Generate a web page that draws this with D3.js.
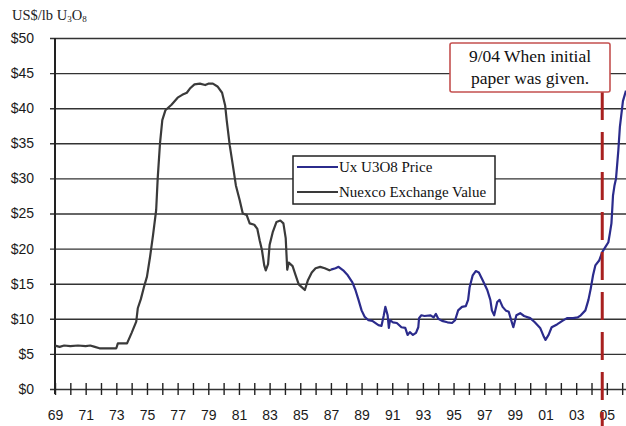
<!DOCTYPE html>
<html>
<head>
<meta charset="utf-8">
<script src="https://cdn.jsdelivr.net/npm/d3@7"></script>
<style>
    body { margin: 0; background: #fff; }
    svg { display: block; }
    .tick text { font-family: "Liberation Sans", Arial, sans-serif; font-size: 14px; fill: #1a1a1a; }
</style>
</head>
<body>
<svg class="main-chart" width="626" height="426"></svg>
<script>
// Nuexco Exchange Value (black), 1969 - 1987
const nuexcoYears = [
    1969.0, 1969.3, 1969.6, 1970.0, 1970.5, 1971.0, 1971.3, 1971.6, 1971.9, 1972.5,
    1973.0, 1973.1, 1973.7, 1974.0, 1974.3, 1974.4, 1974.6, 1974.8, 1975.0, 1975.2,
    1975.4, 1975.6, 1975.7, 1975.85, 1976.0, 1976.2, 1976.4, 1976.6, 1977.0, 1977.3,
    1977.6, 1977.8, 1978.1, 1978.45, 1978.8, 1979.0, 1979.3, 1979.6, 1979.9, 1980.1,
    1980.2, 1980.4, 1980.6, 1980.8, 1981.05, 1981.25, 1981.5, 1981.7, 1982.0, 1982.2,
    1982.35, 1982.5, 1982.65, 1982.75, 1982.9, 1983.0, 1983.2, 1983.45, 1983.7, 1983.9,
    1984.05, 1984.15, 1984.25, 1984.5, 1984.7, 1984.9, 1985.15, 1985.3, 1985.5, 1985.75,
    1986.0, 1986.3, 1986.6, 1986.9, 1987.0
]
const nuexcoPrices = [
    6.2, 6.0, 6.2, 6.1, 6.2, 6.1, 6.2, 6.0, 5.8, 5.8,
    5.8, 6.5, 6.5, 8.0, 9.6, 11.5, 12.8, 14.5, 16.0, 18.8,
    22.0, 25.5, 30.0, 35.0, 38.3, 39.7, 40.1, 40.5, 41.5, 41.9,
    42.2, 42.8, 43.4, 43.5, 43.3, 43.5, 43.5, 43.1, 42.2, 40.4,
    38.3, 34.7, 31.9, 29.0, 26.9, 25.0, 24.8, 23.6, 23.4, 22.8,
    21.2, 19.8, 17.6, 16.9, 17.8, 20.5, 22.3, 23.8, 24.0, 23.6,
    21.5, 17.0, 18.0, 17.5, 16.2, 14.9, 14.4, 14.1, 15.5, 16.6,
    17.2, 17.4, 17.2, 16.9, 17.0
]

// Ux U3O8 Price (blue), 1987 - 2006
const uxYears = [
    1987.0, 1987.3, 1987.5, 1987.8, 1988.1, 1988.4, 1988.6, 1988.8, 1989.0, 1989.2,
    1989.45, 1989.7, 1990.1, 1990.3, 1990.45, 1990.55, 1990.7, 1990.78, 1990.85, 1991.05,
    1991.3, 1991.6, 1991.85, 1992.0, 1992.15, 1992.35, 1992.55, 1992.7, 1992.75, 1992.9,
    1993.1, 1993.5, 1993.7, 1993.85, 1994.0, 1994.25, 1994.6, 1994.9, 1995.1, 1995.3,
    1995.55, 1995.8, 1995.95, 1996.05, 1996.25, 1996.45, 1996.65, 1996.9, 1997.2, 1997.4,
    1997.5, 1997.65, 1997.85, 1998.0, 1998.2, 1998.4, 1998.6, 1998.8, 1998.9, 1999.1,
    1999.35, 1999.6, 2000.0, 2000.3, 2000.65, 2000.9, 2001.0, 2001.2, 2001.4, 2001.75,
    2002.1, 2002.4, 2002.8, 2003.1, 2003.3, 2003.6, 2003.8, 2003.95, 2004.1, 2004.25,
    2004.5, 2004.7, 2004.9, 2005.1, 2005.2, 2005.3, 2005.35, 2005.4, 2005.5, 2005.6,
    2005.75, 2005.85, 2006.05, 2006.25
]
const uxPrices = [
    17.0, 17.2, 17.4, 16.9, 16.2, 15.2, 14.1, 12.7, 11.2, 10.3,
    9.8, 9.7, 9.1, 9.0, 10.5, 11.7, 10.5, 8.7, 9.8, 9.5,
    9.4, 8.8, 8.7, 7.7, 8.1, 7.7, 8.0, 8.8, 10.1, 10.5,
    10.4, 10.5, 10.2, 10.7, 10.0, 9.7, 9.5, 9.4, 9.8, 11.2,
    11.7, 11.8, 12.7, 14.5, 16.2, 16.8, 16.6, 15.5, 14.1, 12.7,
    11.2, 10.5, 12.4, 12.7, 11.7, 11.2, 11.0, 9.5, 8.8, 10.5,
    10.8, 10.4, 10.1, 9.5, 8.7, 7.4, 7.0, 7.7, 8.8, 9.2,
    9.7, 10.1, 10.1, 10.2, 10.5, 11.2, 12.7, 14.3, 16.2, 17.6,
    18.3, 19.5, 20.2, 20.9, 22.2, 23.6, 25.5, 27.5, 29.0, 30.0,
    34.0, 37.3, 41.0, 42.5
]

const tickYears = d3.range(1969, 2007)
const priceTicks = [0, 5, 10, 15, 20, 25, 30, 35, 40, 45, 50]
const legendLabels = ['Ux U3O8 Price', 'Nuexco Exchange Value']
const noteLines = ['9/04 When initial', 'paper was given.']
const noteYear = 2004.7

const svg = d3.select('.main-chart')
const plotLeft = 55, plotRight = 626, plotTop = 38, plotBottom = 389

const xScale = d3.scaleLinear().domain([1969, 2006.25]).range([plotLeft, plotRight])
const yScale = d3.scaleLinear().domain([0, 50]).range([plotBottom, plotTop])

svg.append('defs').append('clipPath').attr('id', 'plot')
    .append('rect').attr('x', plotLeft).attr('y', 0)
    .attr('width', plotRight - plotLeft).attr('height', plotBottom)

// y axis with gridlines
const yAxis = svg.append('g')
    .attr('transform', `translate(${plotLeft},0)`)
    .call(d3.axisLeft(yScale)
        .tickValues(priceTicks)
        .tickFormat(d => '$' + d)
        .tickSizeInner(-(plotRight - plotLeft))
        .tickSizeOuter(0)
        .tickPadding(21))
yAxis.select('.domain').remove()
yAxis.selectAll('.tick line')
    .attr('x1', -5)
    .attr('stroke', '#333')
    .attr('stroke-width', 1.4)

// x axis: ticks crossing the $0 line, labels every two years
const xAxis = svg.append('g')
    .attr('transform', `translate(0,${plotBottom})`)
    .call(d3.axisBottom(xScale)
        .tickValues(tickYears)
        .tickFormat(d => (d % 2 === 1) ? String(d).slice(2) : '')
        .tickSizeInner(6)
        .tickSizeOuter(0)
        .tickPadding(15))
xAxis.select('.domain').remove()
xAxis.selectAll('.tick line')
    .attr('y1', -6)
    .attr('y2', 6)
    .attr('stroke', '#222')
    .attr('stroke-width', 1.4)

// vertical axis line
svg.append('line')
    .attr('x1', plotLeft).attr('x2', plotLeft)
    .attr('y1', yScale(50)).attr('y2', plotBottom + 5)
    .attr('stroke', '#222')
    .attr('stroke-width', 2)

// axis title
const title = svg.append('text')
    .attr('x', 12).attr('y', 20)
    .style('font-family', '"Liberation Serif", "Times New Roman", serif')
    .style('font-size', '14.5px')
    .attr('fill', '#222')
title.append('tspan').text('US$/lb U')
title.append('tspan').text('3').style('font-size', '9px').attr('dy', 2)
title.append('tspan').text('O').attr('dy', -2)
title.append('tspan').text('8').style('font-size', '9px').attr('dy', 2)

// series lines
const line = d3.line()
    .x(d => xScale(d[0]))
    .y(d => yScale(d[1]))

const nuexco = nuexcoYears.map((y, i) => [y, nuexcoPrices[i]])
const ux = uxYears.map((y, i) => [y, uxPrices[i]])

const lines = svg.append('g').attr('clip-path', 'url(#plot)')
lines.append('path')
    .datum(nuexco)
    .attr('d', line)
    .attr('fill', 'none')
    .attr('stroke', '#3a3a3a')
    .attr('stroke-width', 2.2)
    .attr('stroke-linejoin', 'round')
lines.append('path')
    .datum(ux)
    .attr('d', line)
    .attr('fill', 'none')
    .attr('stroke', '#2b2b8c')
    .attr('stroke-width', 2.2)
    .attr('stroke-linejoin', 'round')

// legend
const legend = svg.append('g')
legend.append('rect')
    .attr('x', 293).attr('y', 156)
    .attr('width', 202).attr('height', 48)
    .attr('fill', '#fff')
    .attr('stroke', '#222')
    .attr('stroke-width', 1.5)
const legendColors = ['#2b2b8c', '#3a3a3a']
legendLabels.forEach((label, i) => {
    const cy = 167 + i * 25
    legend.append('line')
        .attr('x1', 297).attr('x2', 338)
        .attr('y1', cy).attr('y2', cy)
        .attr('stroke', legendColors[i])
        .attr('stroke-width', 2)
    legend.append('text')
        .attr('x', 339).attr('y', cy + 5)
        .style('font-family', '"Liberation Serif", "Times New Roman", serif')
        .style('font-size', '15px')
        .attr('fill', '#111')
        .text(label)
})

// annotation: dashed line and box
const noteX = xScale(noteYear)
svg.append('line')
    .attr('x1', noteX).attr('x2', noteX)
    .attr('y1', 92).attr('y2', 426)
    .attr('stroke', '#a8201f')
    .attr('stroke-width', 3)
    .attr('stroke-dasharray', '28,12')

svg.append('rect')
    .attr('x', 450).attr('y', 43)
    .attr('width', 160).attr('height', 49)
    .attr('rx', 2)
    .attr('fill', '#fff')
    .attr('stroke', '#c4504f')
    .attr('stroke-width', 1.6)

noteLines.forEach((t, i) => {
    svg.append('text')
        .attr('x', 530).attr('y', 62 + i * 22)
        .attr('text-anchor', 'middle')
        .style('font-family', '"Liberation Serif", "Times New Roman", serif')
        .style('font-size', '17.5px')
        .attr('fill', '#111')
        .text(t)
})
</script>
</body>
</html>
